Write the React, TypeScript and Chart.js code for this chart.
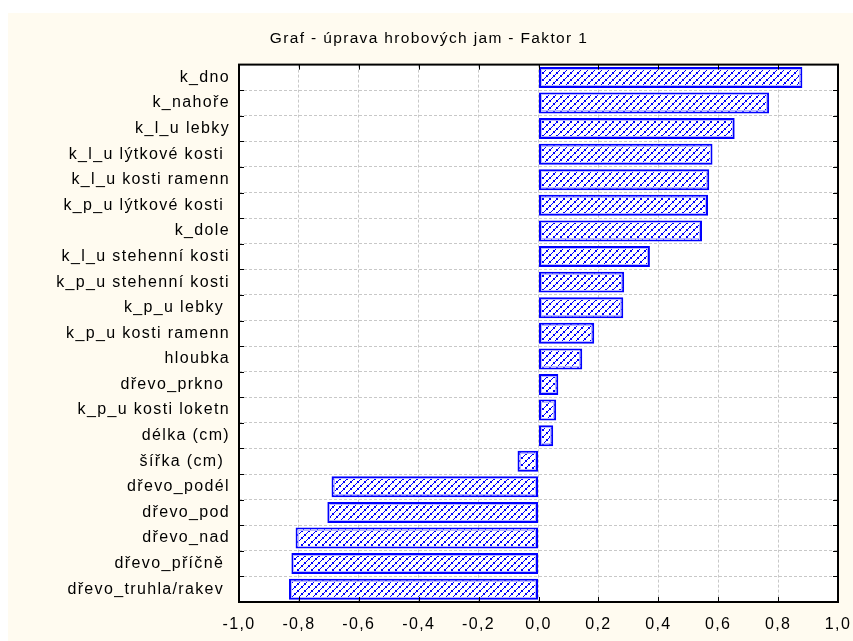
import React, { useEffect, useRef } from 'react';
import { Chart, registerables } from 'chart.js';

Chart.register(...registerables);

const TITLE = 'Graf - úprava hrobových jam - Faktor 1';

const categories = [
  'k_dno',
  'k_nahoře',
  'k_l_u lebky',
  'k_l_u lýtkové kosti ',
  'k_l_u kosti ramenn',
  'k_p_u lýtkové kosti ',
  'k_dole',
  'k_l_u stehenní kosti',
  'k_p_u stehenní kosti',
  'k_p_u lebky ',
  'k_p_u kosti ramenn',
  'hloubka',
  'dřevo_prkno ',
  'k_p_u kosti loketn',
  'délka (cm)',
  'šířka (cm) ',
  'dřevo_podél',
  'dřevo_pod',
  'dřevo_nad',
  'dřevo_příčně ',
  'dřevo_truhla/rakev ',
];

const loadings = [
  0.881, 0.770, 0.655, 0.581, 0.570, 0.566, 0.546, 0.372, 0.286, 0.283, 0.186,
  0.146, 0.066, 0.059, 0.049, -0.070, -0.691, -0.705, -0.811, -0.825, -0.833,
];

const xMin = -1.0;
const xMax = 1.0;
const xStep = 0.2;

const FONT = "'Liberation Sans', Arial, sans-serif";
const LS = '1.35px';
const W = 853;
const H = 641;

function makePattern(ctx: CanvasRenderingContext2D) {
  const c = document.createElement('canvas');
  c.width = 7;
  c.height = 7;
  const g = c.getContext('2d')!;
  g.fillStyle = '#ffffff';
  g.fillRect(0, 0, 7, 7);
  g.fillStyle = '#0000ff';
  // "/" diagonal made of 2x2 blocks joined by single pixels
  g.fillRect(0, 5, 2, 2);
  g.fillRect(2, 4, 1, 1);
  g.fillRect(3, 2, 2, 2);
  g.fillRect(5, 1, 1, 1);
  g.fillRect(6, 0, 1, 1);
  return ctx.createPattern(c, 'repeat');
}

const decor = {
  id: 'decor',
  beforeUpdate(chart: any) {
    chart.ctx.letterSpacing = LS;
  },
  beforeDraw(chart: any) {
    const ctx = chart.ctx as CanvasRenderingContext2D;
    const a = chart.chartArea;
    ctx.save();
    ctx.fillStyle = '#ffffff';
    ctx.fillRect(0, 0, W, H);
    ctx.fillStyle = '#fffbf0';
    ctx.fillRect(8, 13, W - 8, H - 13);
    ctx.fillStyle = '#ffffff';
    ctx.fillRect(a.left, a.top, a.right - a.left, a.bottom - a.top);
    ctx.restore();
    (ctx as any).letterSpacing = LS;
  },
  afterDatasetsDraw(chart: any) {
    const ctx = chart.ctx as CanvasRenderingContext2D;
    const a = chart.chartArea;
    const meta = chart.getDatasetMeta(0);
    ctx.save();
    ctx.strokeStyle = '#b8b8ff';
    ctx.lineWidth = 1;
    meta.data.forEach((el: any) => {
      const p = el.getProps(['x', 'y', 'base', 'height'], true);
      const l = Math.round(Math.min(p.x, p.base));
      const r = Math.round(Math.max(p.x, p.base));
      const t = Math.round(p.y - p.height / 2);
      const w = r - l;
      const h = Math.round(p.height);
      if (w > 6 && h > 6) ctx.strokeRect(l + 2.5, t + 2.5, w - 5, h - 5);
    });
    ctx.strokeStyle = '#000000';
    ctx.lineWidth = 2;
    ctx.strokeRect(a.left, a.top, a.right - a.left, a.bottom - a.top);
    ctx.lineWidth = 1;
    const xs = chart.scales.x;
    xs.ticks.forEach((t: any) => {
      const px = Math.round(xs.getPixelForValue(t.value)) + 0.5;
      ctx.beginPath();
      ctx.moveTo(px, a.top);
      ctx.lineTo(px, a.top + 5);
      ctx.moveTo(px, a.bottom);
      ctx.lineTo(px, a.bottom - 5);
      ctx.stroke();
    });
    const ys = chart.scales.y;
    for (let i = 0; i < categories.length - 1; i++) {
      const py = Math.round((ys.getPixelForValue(i) + ys.getPixelForValue(i + 1)) / 2) + 0.5;
      ctx.beginPath();
      ctx.moveTo(a.left, py);
      ctx.lineTo(a.left + 5, py);
      ctx.moveTo(a.right, py);
      ctx.lineTo(a.right - 5, py);
      ctx.stroke();
    }
    ctx.restore();
  },
};

export default function App() {
  const ref = useRef<HTMLCanvasElement>(null);

  useEffect(() => {
    const canvas = ref.current!;
    const ctx = canvas.getContext('2d')!;
    const pattern = makePattern(ctx);
    const chart = new Chart(canvas, {
      type: 'bar',
      data: {
        labels: categories,
        datasets: [
          {
            data: loadings,
            backgroundColor: pattern as any,
            borderColor: '#0000ff',
            borderWidth: 2,
            borderSkipped: false,
            categoryPercentage: 1,
            barPercentage: 0.82,
          },
        ],
      },
      options: {
        indexAxis: 'y',
        animation: false,
        responsive: false,
        devicePixelRatio: 1,
        layout: { padding: { left: 20, right: 15, top: 0, bottom: 0 } },
        plugins: {
          legend: { display: false },
          tooltip: { enabled: false },
          title: {
            display: true,
            text: TITLE,
            color: '#000000',
            font: { family: FONT, size: 15.5, weight: 'normal' },
            padding: { top: 29, bottom: 17 },
          },
        },
        scales: {
          x: {
            type: 'linear',
            min: xMin,
            max: xMax,
            afterFit: (s: any) => {
              s.height = 39;
              s.paddingLeft = 0;
              s.paddingRight = 0;
            },
            ticks: {
              stepSize: xStep,
              color: '#000000',
              padding: 13,
              font: { family: FONT, size: 16 },
              callback: (v: any) => {
                const n = Math.abs(Number(v)) < 1e-9 ? 0 : Number(v);
                return n.toFixed(1).replace('.', ',');
              },
            },
            grid: { color: '#c8c8c8', lineWidth: 1, drawTicks: false },
            border: { display: false, dash: [3, 2] },
          },
          y: {
            type: 'category',
            afterFit: (s: any) => {
              s.width = 219;
              s.paddingTop = 0;
              s.paddingBottom = 0;
            },
            ticks: {
              color: '#000000',
              padding: 9,
              autoSkip: false,
              font: { family: FONT, size: 16 },
            },
            grid: { color: '#c8c8c8', lineWidth: 1, drawTicks: false, offset: true },
            border: { display: false, dash: [3, 2] },
          },
        },
      },
      plugins: [decor],
    });
    return () => chart.destroy();
  }, []);

  return (
    <div style={{ position: 'fixed', left: 0, top: 0, width: W, height: H, background: '#ffffff' }}>
      <canvas ref={ref} width={W} height={H} style={{ display: 'block' }} />
    </div>
  );
}
